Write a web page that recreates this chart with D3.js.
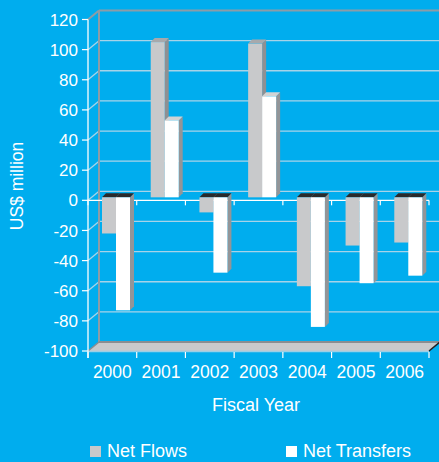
<!DOCTYPE html>
<html>
<head>
<meta charset="utf-8">
<script src="https://cdn.jsdelivr.net/npm/d3@7"></script>
<style>
  body { margin: 0; background: #00adee; }
  svg { display: block; font-family: "Liberation Sans", Arial, Helvetica, sans-serif; }
</style>
</head>
<body>
<script>
// Net flows / net transfers by fiscal year (US$ million)
const years = ["2000", "2001", "2002", "2003", "2004", "2005", "2006"];
const netFlows = [-24, 103, -10, 102, -59, -32, -30];
const netTransfers = [-75, 51, -50, 67, -86, -57, -52];
const seriesNames = ["Net Flows", "Net Transfers"];
const yTicks = [-100, -80, -60, -40, -20, 0, 20, 40, 60, 80, 100, 120];

const w = 439, h = 462;
const bg = "#00adee";
// depth offsets (wall, bar front, bar depth)
const wallDx = 11, wallDy = -9;
const barDx = 3, barDy = -3;
const depthDx = 4, depthDy = -4;

const svg = d3.select("body").append("svg")
  .attr("width", w).attr("height", h);

svg.append("rect").attr("width", w).attr("height", h).attr("fill", bg);

const y = d3.scaleLinear().domain([-100, 120]).range([351, 19.5]);
const x0 = d3.scaleBand().domain(years).range([88, 429]);
const x1 = d3.scaleBand().domain(seriesNames).range([11, 39]);

const left = 88, right = 429;

// back wall gridlines
svg.selectAll(".grid").data(yTicks.slice(1))
  .enter().append("line")
  .attr("x1", left + wallDx).attr("x2", w)
  .attr("y1", d => y(d) + wallDy).attr("y2", d => y(d) + wallDy)
  .attr("stroke", d => d === 120 ? "#8d9ca6" : "#a7d3e8")
  .attr("stroke-width", d => d === 120 ? 2 : 1.3);

// side wall diagonals
svg.selectAll(".diag").data(yTicks.slice(1))
  .enter().append("line")
  .attr("x1", left).attr("x2", left + wallDx)
  .attr("y1", d => y(d)).attr("y2", d => y(d) + wallDy)
  .attr("stroke", d => d === 120 ? "#8d9ca6" : "#a7d3e8")
  .attr("stroke-width", d => d === 120 ? 2 : 1.3);

// back wall left edge
svg.append("line")
  .attr("x1", left + wallDx).attr("x2", left + wallDx)
  .attr("y1", y(120) + wallDy).attr("y2", y(-100) + wallDy)
  .attr("stroke", "#8d9ca6").attr("stroke-width", 2);

// floor
const fy = y(-100);
svg.append("polygon")
  .attr("points", [[left, fy], [right, fy], [right + wallDx, fy + wallDy], [left + wallDx, fy + wallDy]].join(" "))
  .attr("fill", "#c8c9cb");
svg.append("line")
  .attr("x1", left + wallDx).attr("x2", w)
  .attr("y1", fy + wallDy).attr("y2", fy + wallDy)
  .attr("stroke", "#8a8d90").attr("stroke-width", 2);
svg.append("line")
  .attr("x1", left).attr("x2", left + wallDx)
  .attr("y1", fy).attr("y2", fy + wallDy)
  .attr("stroke", "#8a8d90").attr("stroke-width", 1.5);
svg.append("line")
  .attr("x1", right).attr("x2", right + wallDx)
  .attr("y1", fy).attr("y2", fy + wallDy)
  .attr("stroke", "#231f20").attr("stroke-width", 1.5);
svg.append("line")
  .attr("x1", left).attr("x2", right)
  .attr("y1", fy + 0.5).attr("y2", fy + 0.5)
  .attr("stroke", "#9acfe6").attr("stroke-width", 1.5);

// category ticks (floor and zero line)
const bounds = years.map(d => x0(d)).concat([right]);
svg.selectAll(".xt").data(bounds).enter().append("line")
  .attr("x1", d => d).attr("x2", d => d)
  .attr("y1", fy + 1).attr("y2", fy + 7)
  .attr("stroke", "#ffffff").attr("stroke-width", 1.2);

// zero line
svg.append("line")
  .attr("x1", left).attr("x2", right)
  .attr("y1", y(0)).attr("y2", y(0))
  .attr("stroke", "#ffffff").attr("stroke-width", 1.3);
svg.selectAll(".zt").data(bounds).enter().append("line")
  .attr("x1", d => d).attr("x2", d => d)
  .attr("y1", y(0)).attr("y2", y(0) + 5)
  .attr("stroke", "#ffffff").attr("stroke-width", 1.2);

// bars
const styles = {
  "Net Flows": { front: "#c8c9cb", top: "#a7a9ac", side: "#8e9093" },
  "Net Transfers": { front: "#ffffff", top: "#d1d3d4", side: "#939598" }
};
const barData = [];
years.forEach((yr, i) => {
  barData.push({ year: yr, s: "Net Flows", v: netFlows[i] });
  barData.push({ year: yr, s: "Net Transfers", v: netTransfers[i] });
});

const bw = x1.bandwidth();
const bars = svg.selectAll(".bar").data(barData).enter().append("g");
bars.each(function(d) {
  const g = d3.select(this);
  const st = styles[d.s];
  const xa = x0(d.year) + x1(d.s) + barDx;
  const xb = xa + bw;
  const y0 = y(0) + barDy;
  const yv = y(d.v) + barDy;
  const yt = Math.min(y0, yv), yb = Math.max(y0, yv);
  // side face
  g.append("polygon")
    .attr("points", [[xb, yt], [xb + depthDx, yt + depthDy], [xb + depthDx, yb + depthDy], [xb, yb]].join(" "))
    .attr("fill", st.side);
  // top face
  g.append("polygon")
    .attr("points", [[xa, yt], [xa + depthDx, yt + depthDy], [xb + depthDx, yt + depthDy], [xb, yt]].join(" "))
    .attr("fill", d.v < 0 ? "#2a2a2b" : st.top);
  // front face
  g.append("rect")
    .attr("x", xa).attr("y", yt)
    .attr("width", bw).attr("height", yb - yt)
    .attr("fill", st.front);
});

// y axis
svg.append("line")
  .attr("x1", left).attr("x2", left)
  .attr("y1", y(120)).attr("y2", fy + 7)
  .attr("stroke", "#ffffff").attr("stroke-width", 1.3);
svg.selectAll(".yt").data(yTicks).enter().append("line")
  .attr("x1", left - 6).attr("x2", left)
  .attr("y1", d => y(d)).attr("y2", d => y(d))
  .attr("stroke", "#ffffff").attr("stroke-width", 1.2);
svg.selectAll(".yl").data(yTicks).enter().append("text")
  .attr("x", 78).attr("y", d => y(d)).attr("dy", "0.36em")
  .attr("text-anchor", "end")
  .attr("fill", "#ffffff").attr("font-size", 17)
  .text(d => d);

// year labels
svg.selectAll(".xl").data(years).enter().append("text")
  .attr("x", d => x0(d) + x0.bandwidth() / 2).attr("y", 378)
  .attr("text-anchor", "middle")
  .attr("fill", "#ffffff").attr("font-size", 17.5)
  .text(d => d);

// axis titles
svg.append("text")
  .attr("x", 256).attr("y", 411)
  .attr("text-anchor", "middle")
  .attr("fill", "#ffffff").attr("font-size", 18)
  .text("Fiscal Year");
svg.append("text")
  .attr("transform", "translate(23,186) rotate(-90)")
  .attr("text-anchor", "middle")
  .attr("fill", "#ffffff").attr("font-size", 17.5)
  .text("US$ million");

// legend
const legX = [90, 286];
seriesNames.forEach((s, i) => {
  svg.append("rect")
    .attr("x", legX[i]).attr("y", 446).attr("width", 11).attr("height", 11)
    .attr("fill", styles[s].front);
  svg.append("text")
    .attr("x", legX[i] + 17).attr("y", 456.5)
    .attr("fill", "#ffffff").attr("font-size", 18)
    .text(s);
});
</script>
</body>
</html>
